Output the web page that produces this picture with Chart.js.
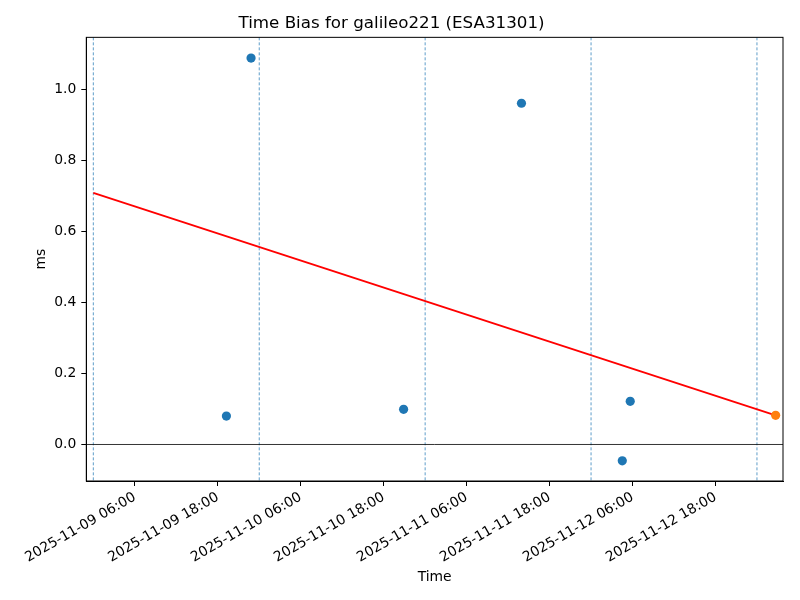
<!DOCTYPE html>
<html>
<head>
<meta charset="utf-8">
<script src="https://cdn.jsdelivr.net/npm/chart.js@4"></script>
<style>
  html, body { margin: 0; padding: 0; background: #fff; }
  #wrap { width: 800px; height: 600px; }
</style>
</head>
<body>
<div id="wrap"><canvas id="c" width="800" height="600"></canvas></div>
<script>
// ---- data (UTC times) ----
const chartTitle = 'Time Bias for galileo221 (ESA31301)';
const xAxisLabel = 'Time';
const yAxisLabel = 'ms';

const biasTimes  = ['2025-11-09T19:15', '2025-11-09T22:49', '2025-11-10T20:53', '2025-11-11T13:56', '2025-11-12T04:31', '2025-11-12T05:40'];
const biasValues = [0.080, 1.087, 0.099, 0.960, -0.046, 0.1215];

const latestTimes  = ['2025-11-13T02:42'];
const latestValues = [0.082];

const trendTimes  = ['2025-11-09T00:00', '2025-11-13T02:42'];
const trendValues = [0.708, 0.082];

const dayLineTimes = ['2025-11-09T00:00', '2025-11-10T00:00', '2025-11-11T00:00', '2025-11-12T00:00', '2025-11-13T00:00'];

const xTickLabels = ['2025-11-09 06:00', '2025-11-09 18:00', '2025-11-10 06:00', '2025-11-10 18:00',
                     '2025-11-11 06:00', '2025-11-11 18:00', '2025-11-12 06:00', '2025-11-12 18:00'];
const yTickValues = [0.0, 0.2, 0.4, 0.6, 0.8, 1.0];

const xMinTime = '2025-11-08T22:59';
const xMaxTime = '2025-11-13T03:46';
const yMin = -0.1027;
const yMax = 1.1454;

// ---- helpers ----
const toMs = s => Date.parse(s.replace(' ', 'T') + 'Z');
const fmt = v => new Date(v).toISOString().slice(0, 16).replace('T', ' ');
const pts = (ts, vs) => ts.map((t, i) => ({ x: toMs(t), y: vs[i] }));

const FONT = 'DejaVu Sans';

const refLines = {
  id: 'refLines',
  beforeDatasetsDraw(chart) {
    const { ctx, chartArea: a, scales: { x, y } } = chart;
    ctx.save();
    ctx.beginPath();
    ctx.rect(a.left, a.top, a.right - a.left, a.bottom - a.top);
    ctx.clip();
    // dashed day lines
    ctx.strokeStyle = 'rgba(31,119,180,0.9)';
    ctx.lineWidth = 0.8;
    ctx.setLineDash([3, 2]);
    dayLineTimes.forEach(t => {
      const px = x.getPixelForValue(toMs(t));
      ctx.beginPath();
      ctx.moveTo(px, a.top);
      ctx.lineTo(px, a.bottom);
      ctx.stroke();
    });
    // zero line
    ctx.setLineDash([]);
    ctx.strokeStyle = '#000';
    ctx.lineWidth = 0.8;
    const py = y.getPixelForValue(0);
    ctx.beginPath();
    ctx.moveTo(a.left, py);
    ctx.lineTo(a.right, py);
    ctx.stroke();
    ctx.restore();
  },
  afterDraw(chart) {
    const { ctx, chartArea: a } = chart;
    ctx.save();
    ctx.strokeStyle = '#000';
    ctx.lineWidth = 1;
    ctx.strokeRect(a.left, a.top, a.right - a.left, a.bottom - a.top);
    ctx.restore();
  }
};

new Chart(document.getElementById('c'), {
  data: {
    datasets: [
      {
        type: 'scatter',
        data: pts(latestTimes, latestValues),
        backgroundColor: '#ff7f0e',
        borderWidth: 0,
        pointRadius: 4.6,
        order: 0
      },
      {
        type: 'line',
        data: pts(trendTimes, trendValues),
        borderColor: '#ff0000',
        borderWidth: 1.8,
        pointRadius: 0,
        fill: false,
        order: 1
      },
      {
        type: 'scatter',
        data: pts(biasTimes, biasValues),
        backgroundColor: '#1f77b4',
        borderWidth: 0,
        pointRadius: 4.6,
        order: 2
      }
    ]
  },
  options: {
    responsive: false,
    animation: false,
    events: [],
    layout: { padding: { left: 0, right: 17, top: 0, bottom: 0 } },
    plugins: {
      legend: { display: false },
      tooltip: { enabled: false },
      title: {
        display: true,
        text: chartTitle,
        color: '#000',
        font: { family: FONT, size: 16.7, weight: 'normal' },
        padding: { top: 13.3, bottom: 4 }
      }
    },
    scales: {
      x: {
        type: 'linear',
        min: toMs(xMinTime),
        max: toMs(xMaxTime),
        afterBuildTicks: s => { s.ticks = xTickLabels.map(l => ({ value: toMs(l) })); },
        afterFit: s => { s.height = 119; },
        grid: { drawOnChartArea: false, drawTicks: true, tickLength: 5, color: '#000', lineWidth: 1 },
        border: { display: true, color: '#000', width: 1 },
        ticks: {
          color: '#000',
          font: { family: FONT, size: 13.9 },
          minRotation: 30,
          maxRotation: 30,
          autoSkip: false,
          padding: 3,
          callback: v => fmt(v)
        },
        title: {
          display: true,
          text: xAxisLabel,
          color: '#000',
          font: { family: FONT, size: 13.9 },
          padding: { top: 0, bottom: 14.6 }
        }
      },
      y: {
        type: 'linear',
        min: yMin,
        max: yMax,
        afterBuildTicks: s => { s.ticks = yTickValues.map(v => ({ value: v })); },
        afterFit: s => { s.width = 86.3; },
        grid: { drawOnChartArea: false, drawTicks: true, tickLength: 5, color: '#000', lineWidth: 1 },
        border: { display: true, color: '#000', width: 1 },
        ticks: {
          color: '#000',
          font: { family: FONT, size: 13.9 },
          padding: 5,
          callback: v => v.toFixed(1)
        },
        title: {
          display: true,
          text: yAxisLabel,
          color: '#000',
          font: { family: FONT, size: 13.9 },
          padding: { top: 33.3, bottom: 0 }
        }
      }
    }
  },
  plugins: [refLines]
});
</script>
</body>
</html>
